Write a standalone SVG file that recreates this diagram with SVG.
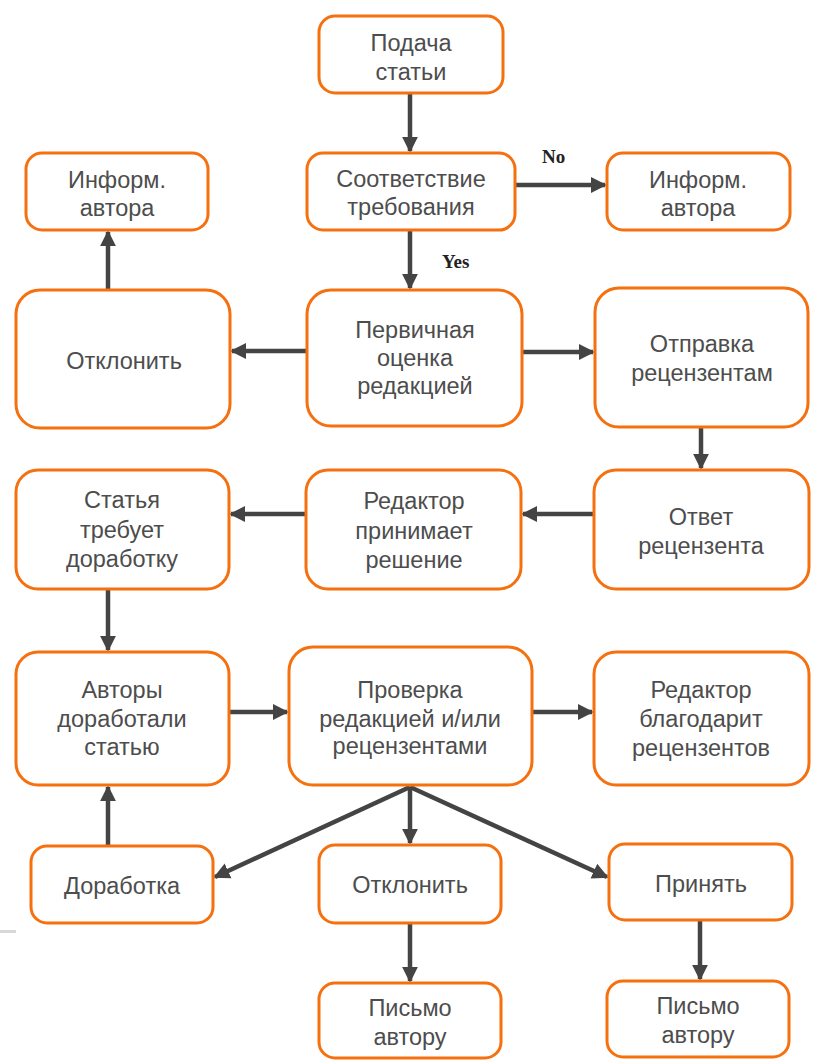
<svg xmlns="http://www.w3.org/2000/svg" width="817" height="1060" viewBox="0 0 817 1060">
<style>
.box{fill:#fff;stroke:#f5700f;stroke-width:3}
.t{font-family:"Liberation Sans",Arial,sans-serif;font-size:23.5px;fill:#4d4d4d;text-anchor:middle}
.lbl{font-family:"Liberation Serif","Times New Roman",serif;font-size:19px;font-weight:bold;fill:#222}
.c{stroke:#444;stroke-width:4.5;fill:none;marker-end:url(#ah)}
</style>
<defs>
<marker id="ah" markerWidth="4" markerHeight="4" refX="3.2" refY="2" orient="auto" markerUnits="strokeWidth">
<path d="M0,0.2 L3.6,2 L0,3.8 Z" fill="#444"/>
</marker>
</defs>
<rect width="817" height="1060" fill="#fff"/>
<rect x="0" y="930" width="16" height="3" fill="#d8d8d8"/>
<g id="connectors">
<line class="c" x1="410" y1="93" x2="410" y2="151"/>
<line class="c" x1="515" y1="185" x2="605" y2="185"/>
<line class="c" x1="410" y1="230" x2="410" y2="288"/>
<line class="c" x1="108" y1="290" x2="108" y2="232"/>
<line class="c" x1="307" y1="351" x2="232" y2="351"/>
<line class="c" x1="522" y1="352" x2="593" y2="352"/>
<line class="c" x1="701" y1="427" x2="701" y2="468"/>
<line class="c" x1="594" y1="514" x2="523" y2="514"/>
<line class="c" x1="306" y1="514" x2="231" y2="514"/>
<line class="c" x1="108" y1="589" x2="108" y2="650"/>
<line class="c" x1="229" y1="712" x2="287" y2="712"/>
<line class="c" x1="532" y1="712" x2="592" y2="712"/>
<line class="c" x1="410" y1="787" x2="215" y2="877"/>
<line class="c" x1="410" y1="787" x2="410" y2="843"/>
<line class="c" x1="410" y1="787" x2="607" y2="877"/>
<line class="c" x1="108" y1="846" x2="108" y2="787"/>
<line class="c" x1="410" y1="923" x2="410" y2="981"/>
<line class="c" x1="700" y1="920" x2="700" y2="979"/>
<text class="lbl" x="542" y="163">No</text>
<text class="lbl" x="442" y="268">Yes</text>
</g>
<g id="n1"><rect class="box" x="319" y="16" width="184" height="77" rx="16"/><text class="t" x="411" y="51">Подача</text><text class="t" x="411" y="80">статьи</text></g>
<g id="n2"><rect class="box" x="307" y="153" width="208" height="77" rx="16"/><text class="t" x="411" y="187">Соответствие</text><text class="t" x="411" y="215">требования</text></g>
<g id="n3"><rect class="box" x="26" y="153" width="182" height="77" rx="16"/><text class="t" x="117" y="188">Информ.</text><text class="t" x="117" y="216">автора</text></g>
<g id="n4"><rect class="box" x="607" y="153" width="183" height="77" rx="16"/><text class="t" x="698" y="188">Информ.</text><text class="t" x="698" y="216">автора</text></g>
<g id="n5"><rect class="box" x="16" y="290" width="214" height="138" rx="24"/><text class="t" x="124" y="369">Отклонить</text></g>
<g id="n6"><rect class="box" x="307" y="290" width="215" height="136" rx="24"/><text class="t" x="415" y="338">Первичная</text><text class="t" x="415" y="366">оценка</text><text class="t" x="415" y="394">редакцией</text></g>
<g id="n7"><rect class="box" x="595" y="288" width="213" height="139" rx="24"/><text class="t" x="702" y="352">Отправка</text><text class="t" x="702" y="381">рецензентам</text></g>
<g id="n8"><rect class="box" x="16" y="470" width="213" height="119" rx="22"/><text class="t" x="122" y="508">Статья</text><text class="t" x="122" y="538">требует</text><text class="t" x="122" y="567">доработку</text></g>
<g id="n9"><rect class="box" x="306" y="470" width="215" height="119" rx="22"/><text class="t" x="414" y="509">Редактор</text><text class="t" x="414" y="539">принимает</text><text class="t" x="414" y="568">решение</text></g>
<g id="n10"><rect class="box" x="594" y="470" width="215" height="119" rx="22"/><text class="t" x="701" y="525">Ответ</text><text class="t" x="701" y="554">рецензента</text></g>
<g id="n11"><rect class="box" x="16" y="652" width="213" height="133" rx="22"/><text class="t" x="122" y="698">Авторы</text><text class="t" x="122" y="727">доработали</text><text class="t" x="122" y="755">статью</text></g>
<g id="n12"><rect class="box" x="289" y="647" width="243" height="138" rx="24"/><text class="t" x="410" y="698">Проверка</text><text class="t" x="410" y="727">редакцией и/или</text><text class="t" x="410" y="754">рецензентами</text></g>
<g id="n13"><rect class="box" x="594" y="652" width="215" height="133" rx="22"/><text class="t" x="701" y="698">Редактор</text><text class="t" x="701" y="727">благодарит</text><text class="t" x="701" y="756">рецензентов</text></g>
<g id="n14"><rect class="box" x="31" y="846" width="182" height="77" rx="16"/><text class="t" x="122" y="894">Доработка</text></g>
<g id="n15"><rect class="box" x="319" y="845" width="182" height="78" rx="16"/><text class="t" x="410" y="893">Отклонить</text></g>
<g id="n16"><rect class="box" x="609" y="844" width="183" height="76" rx="16"/><text class="t" x="701" y="892">Принять</text></g>
<g id="n17"><rect class="box" x="319" y="983" width="182" height="75" rx="16"/><text class="t" x="410" y="1016">Письмо</text><text class="t" x="410" y="1045">автору</text></g>
<g id="n18"><rect class="box" x="607" y="981" width="182" height="76" rx="16"/><text class="t" x="698" y="1014">Письмо</text><text class="t" x="698" y="1043">автору</text></g>
</svg>
